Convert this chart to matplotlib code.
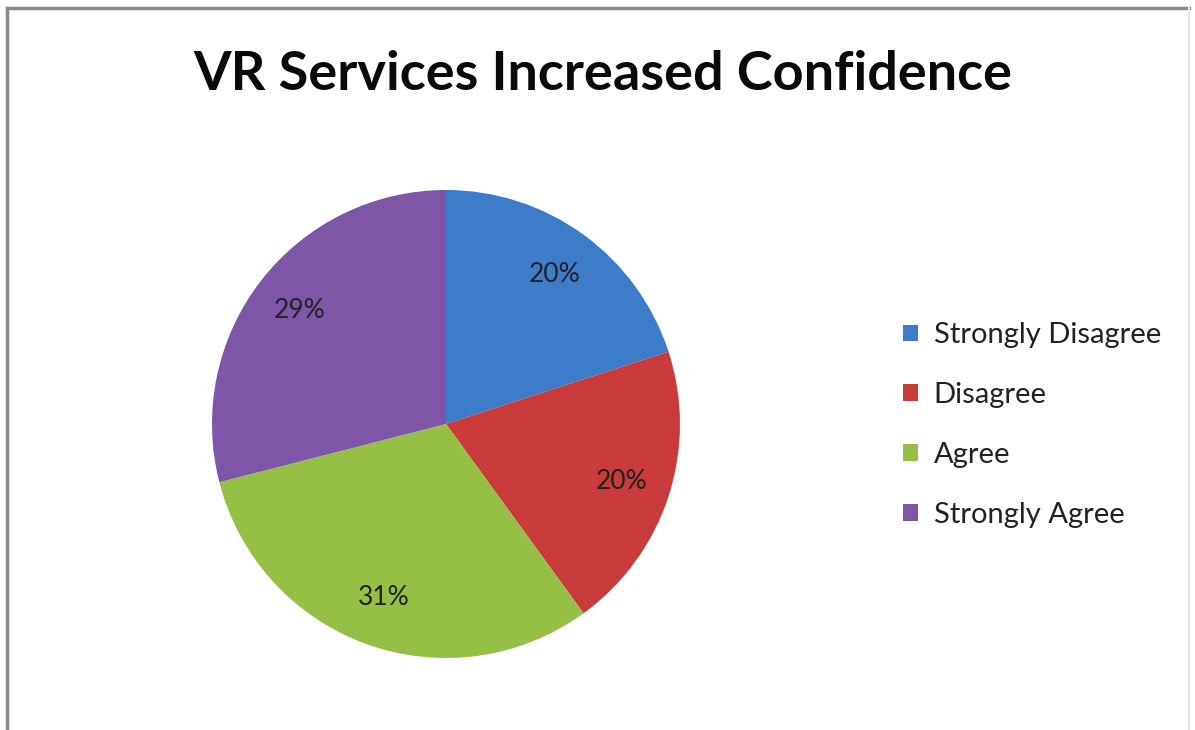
import matplotlib
matplotlib.use("Agg")
import matplotlib.pyplot as plt
from matplotlib.lines import Line2D
from matplotlib.patches import Patch

plt.rcParams['font.family'] = ['Lato', 'DejaVu Sans']

categorias = ['Strongly Disagree', 'Disagree', 'Agree', 'Strongly Agree']
porcentajes = [20, 20, 31, 29]
colores = ['#3D7CC9', '#C93B3A', '#95BF45', '#7D56A7']

W, H = 1195, 730
fig = plt.figure(figsize=(W / 100, H / 100), dpi=100)
fig.patch.set_facecolor('white')

# pie area: center (446, 424) px, radius 234 px
cx, cy, r = 446, 424, 234
ax = fig.add_axes([(cx - r) / W, (H - cy - r) / H, 2 * r / W, 2 * r / H])
wedges, textos, autotextos = ax.pie(
    porcentajes, colors=colores, startangle=90, counterclock=False,
    autopct='%1.0f%%', pctdistance=0.79,
    wedgeprops=dict(edgecolor='none'),
    textprops=dict(fontsize=19, color='#222222'))
ax.set_xlim(-1, 1)
ax.set_ylim(-1, 1)
ax.set_aspect('auto')
ax.axis('off')

fig.text(603 / W, 1 - 75 / H, 'VR Services Increased Confidence',
         ha='center', va='center', fontsize=39, fontweight='bold', color='#0a0a0a')

handles = [Patch(facecolor=c, edgecolor='none') for c in colores]
fig.legend(handles, categorias, loc='upper left',
           bbox_to_anchor=(877 / W, 1 - 296 / H), frameon=False,
           fontsize=21, labelspacing=1.16, handlelength=0.5, handleheight=0.5,
           handletextpad=0.55, labelcolor='#222222')

# frame around the chart
fig.add_artist(Line2D([7 / W, 7 / W], [0, 1 - 8 / H], transform=fig.transFigure,
                      color='#8a8a8a', lw=2.5))
fig.add_artist(Line2D([7 / W, 1189 / W], [1 - 8 / H, 1 - 8 / H], transform=fig.transFigure,
                      color='#8a8a8a', lw=2.5))
fig.add_artist(Line2D([1189 / W, 1189 / W], [0, 1 - 8 / H], transform=fig.transFigure,
                      color='#e6e6e6', lw=1.5))

fig.savefig('out.png', dpi=100)
